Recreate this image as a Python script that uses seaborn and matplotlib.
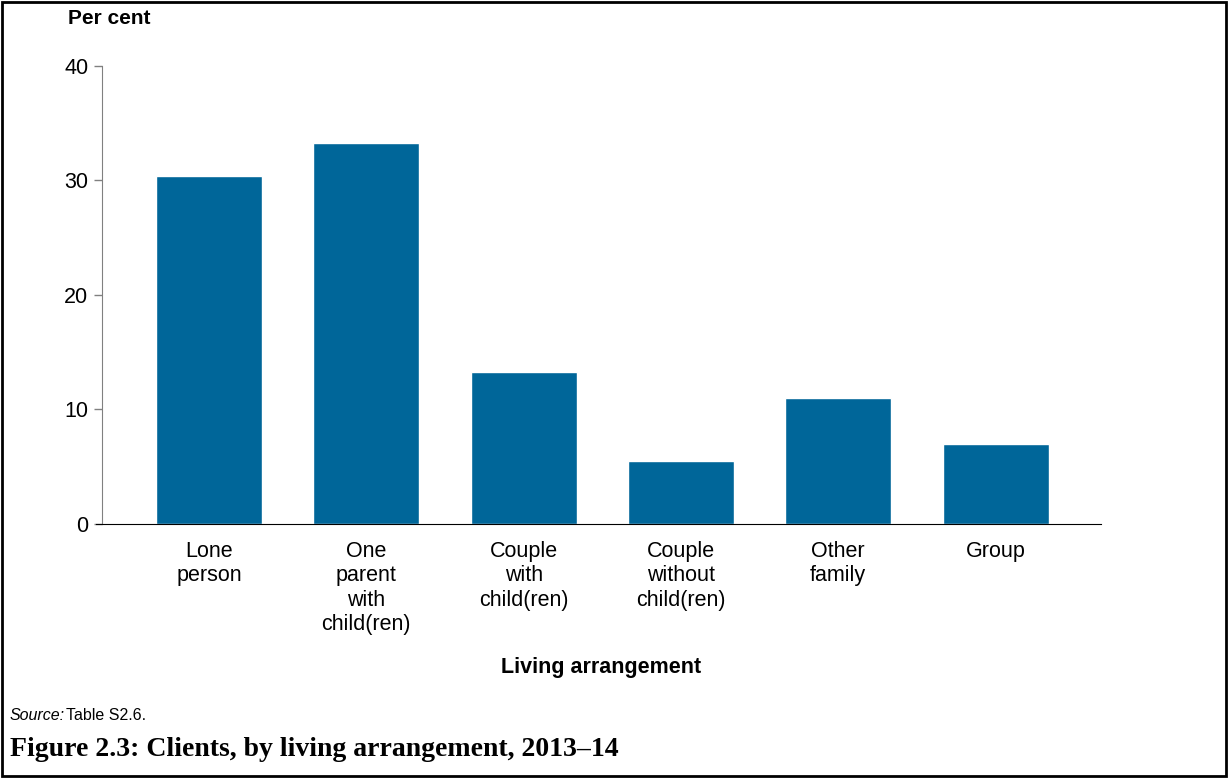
import pandas as pd
import seaborn as sns
import matplotlib.pyplot as plt
from matplotlib.patches import Rectangle

categories = ['Lone\nperson', 'One\nparent\nwith\nchild(ren)', 'Couple\nwith\nchild(ren)',
              'Couple\nwithout\nchild(ren)', 'Other\nfamily', 'Group']
values = [30.4, 33.3, 13.3, 5.5, 11.0, 7.0]
yticks = [0, 10, 20, 30, 40]

df = pd.DataFrame({'arrangement': categories, 'pct': values})

sns.set_style('white')
plt.rcParams['font.family'] = ['Liberation Sans', 'DejaVu Sans']
plt.rcParams['text.color'] = 'black'
plt.rcParams['xtick.color'] = 'black'
plt.rcParams['ytick.color'] = 'black'
plt.rcParams['axes.labelcolor'] = 'black'

fig = plt.figure(figsize=(12.28, 7.78), dpi=100)
ax = fig.add_axes([0.0831, 0.3265, 0.8135, 0.5887])
sns.barplot(data=df, x='arrangement', y='pct', color='#006699', saturation=1,
            width=0.675, ax=ax)

ax.set_ylim(0, 40)
ax.set_xlim(-0.68, 5.67)
ax.set_yticks(yticks)
ax.tick_params(axis='y', length=6, width=1, color='#808080', labelsize=15.5, pad=4, left=True)
ax.tick_params(axis='x', length=0, labelsize=15.5, pad=12)
ax.spines['top'].set_visible(False)
ax.spines['right'].set_visible(False)
ax.spines['left'].set_color('#808080')
ax.spines['bottom'].set_color('black')
ax.spines['bottom'].set_bounds(-0.72, 5.67)
ax.set_xlabel('Living arrangement', fontsize=15.5, fontweight='bold', labelpad=16)
ax.set_ylabel('')
for lab in ax.get_xticklabels():
    lab.set_verticalalignment('top')
    lab.set_linespacing(1.22)

fig.text(68 / 1228, 1 - 18 / 778, 'Per cent', fontsize=15, fontweight='bold', va='center')
fig.text(10 / 1228, 1 - 716 / 778, 'Source:', fontsize=11.5, style='italic', va='center')
fig.text(66 / 1228, 1 - 716 / 778, 'Table S2.6.', fontsize=11.5, va='center')
fig.text(10 / 1228, 1 - 750 / 778, 'Figure 2.3: Clients, by living arrangement, 2013–14',
         fontsize=20, fontweight='bold', va='center', family=['Liberation Serif', 'DejaVu Serif'])

fig.patches.append(Rectangle((0.0015, 0.002), 0.997, 0.996, transform=fig.transFigure,
                             fill=False, edgecolor='black', linewidth=2))

fig.savefig('out.png', dpi=100)
